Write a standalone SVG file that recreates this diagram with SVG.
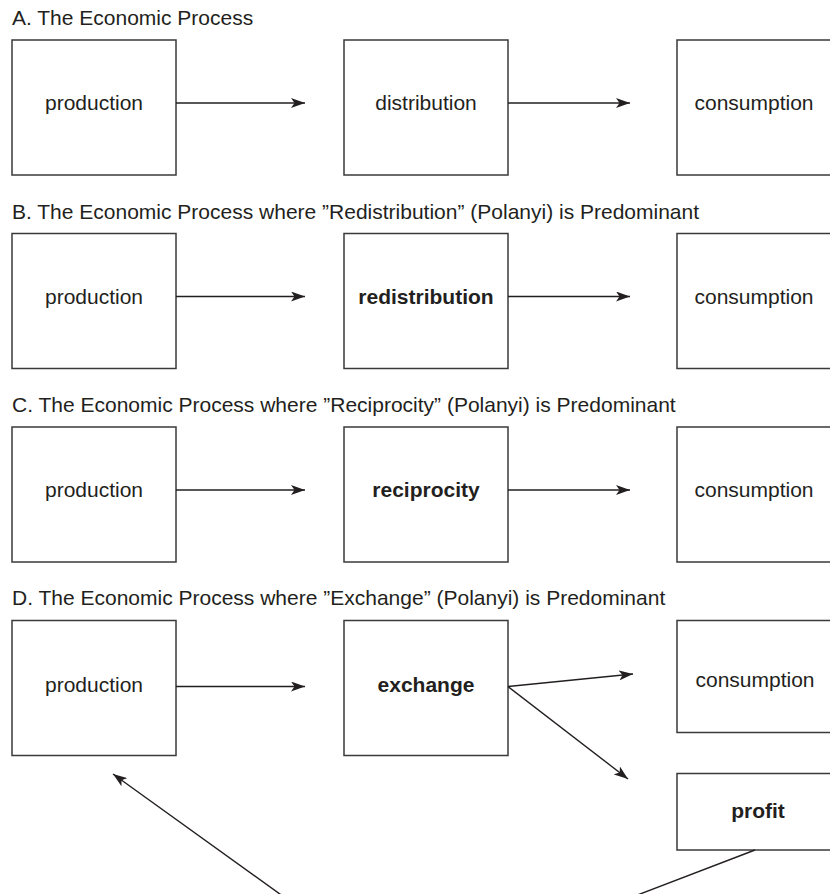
<svg xmlns="http://www.w3.org/2000/svg" width="830" height="894" viewBox="0 0 830 894">
<style>
.title{font-family:"Liberation Sans",Arial,sans-serif;font-size:21px;fill:#231f20}
.lbl{font-family:"Liberation Sans",Arial,sans-serif;font-size:21px;fill:#231f20;text-anchor:middle}
.b{font-weight:bold}
.box{fill:#fff;stroke:#3a3a3a;stroke-width:1.5}
.conn{fill:none;stroke:#231f20;stroke-width:1.4}
</style>
<defs>
<marker id="ah" viewBox="0 0 14 10" refX="14" refY="5" markerWidth="14" markerHeight="10" markerUnits="userSpaceOnUse" orient="auto">
<path d="M0,0 L14,5 L0,10 L3.5,5 z" fill="#231f20"/>
</marker>
</defs>
<rect width="830" height="894" fill="#fff"/>
<text class="title" x="12" y="25">A. The Economic Process</text>
<text class="title" x="12" y="218.5">B. The Economic Process where ”Redistribution” (Polanyi) is Predominant</text>
<text class="title" x="12" y="412">C. The Economic Process where ”Reciprocity” (Polanyi) is Predominant</text>
<text class="title" x="12" y="605">D. The Economic Process where ”Exchange” (Polanyi) is Predominant</text>
<g id="a-production"><rect class="box" x="12" y="40" width="164" height="135"/><text class="lbl" x="94" y="110">production</text></g>
<g id="a-distribution"><rect class="box" x="344" y="40" width="164" height="135"/><text class="lbl" x="426" y="110">distribution</text></g>
<g id="a-consumption"><rect class="box" x="677" y="40" width="164" height="135"/><text class="lbl" x="754" y="110">consumption</text></g>
<g id="b-production"><rect class="box" x="12" y="233.5" width="164" height="135"/><text class="lbl" x="94" y="303.5">production</text></g>
<g id="b-redistribution"><rect class="box" x="344" y="233.5" width="164" height="135"/><text class="lbl b" x="426" y="303.5">redistribution</text></g>
<g id="b-consumption"><rect class="box" x="677" y="233.5" width="164" height="135"/><text class="lbl" x="754" y="303.5">consumption</text></g>
<g id="c-production"><rect class="box" x="12" y="427" width="164" height="135"/><text class="lbl" x="94" y="497">production</text></g>
<g id="c-reciprocity"><rect class="box" x="344" y="427" width="164" height="135"/><text class="lbl b" x="426" y="497">reciprocity</text></g>
<g id="c-consumption"><rect class="box" x="677" y="427" width="164" height="135"/><text class="lbl" x="754" y="497">consumption</text></g>
<g id="d-production"><rect class="box" x="12" y="620.5" width="164" height="135"/><text class="lbl" x="94" y="691.5">production</text></g>
<g id="d-exchange"><rect class="box" x="344" y="620.5" width="164" height="135"/><text class="lbl b" x="426" y="691.5">exchange</text></g>
<g id="d-consumption"><rect class="box" x="677" y="620.5" width="164" height="112"/><text class="lbl" x="755" y="687">consumption</text></g>
<g id="d-profit"><rect class="box" x="677" y="773.5" width="164" height="76.5"/><text class="lbl b" x="758" y="818">profit</text></g>
<g id="connectors">
<line class="conn" x1="176" y1="103" x2="305" y2="103" marker-end="url(#ah)"/>
<line class="conn" x1="508" y1="103" x2="630" y2="103" marker-end="url(#ah)"/>
<line class="conn" x1="176" y1="296.5" x2="305" y2="296.5" marker-end="url(#ah)"/>
<line class="conn" x1="508" y1="296.5" x2="630" y2="296.5" marker-end="url(#ah)"/>
<line class="conn" x1="176" y1="490" x2="305" y2="490" marker-end="url(#ah)"/>
<line class="conn" x1="508" y1="490" x2="630" y2="490" marker-end="url(#ah)"/>
<line class="conn" x1="176" y1="686.5" x2="305" y2="686.5" marker-end="url(#ah)"/>
<line class="conn" x1="508" y1="686.5" x2="633" y2="674" marker-end="url(#ah)"/>
<line class="conn" x1="508" y1="686.5" x2="628" y2="779" marker-end="url(#ah)"/>
<polyline class="conn" points="755,850 405,984 113,774" marker-end="url(#ah)"/>
</g>
</svg>
